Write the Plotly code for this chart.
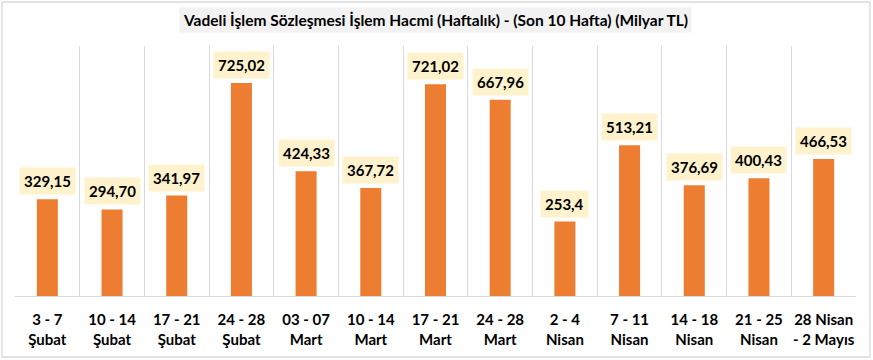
import plotly.graph_objects as go

categories = ["3 - 7<br>Şubat", "10 - 14<br>Şubat", "17 - 21<br>Şubat", "24 - 28<br>Şubat",
              "03 - 07<br>Mart", "10 - 14<br>Mart", "17 - 21<br>Mart", "24 - 28<br>Mart",
              "2 - 4<br>Nisan", "7 - 11<br>Nisan", "14 - 18<br>Nisan", "21 - 25<br>Nisan",
              "28 Nisan<br>- 2 Mayıs"]
values = [329.15, 294.70, 341.97, 725.02, 424.33, 367.72, 721.02, 667.96,
          253.4, 513.21, 376.69, 400.43, 466.53]
value_labels = ["329,15", "294,70", "341,97", "725,02", "424,33", "367,72", "721,02", "667,96",
                "253,4", "513,21", "376,69", "400,43", "466,53"]
title_text = "Vadeli İşlem Sözleşmesi İşlem Hacmi (Haftalık) - (Son 10 Hafta) (Milyar TL)"

FONT = "Lato"

fig = go.Figure()
fig.add_trace(go.Bar(
    x=categories, y=values,
    marker=dict(color="#ED7D31", line=dict(width=0)),
    hoverinfo="skip",
))

annotations = []
for c, v, t in zip(categories, values, value_labels):
    annotations.append(dict(
        x=c, y=v, xref="x", yref="y", text=t, showarrow=False,
        yanchor="bottom", yshift=4,
        bgcolor="#FFF2CC", borderpad=4,
        font=dict(family=FONT, size=15, color="#000000", weight="bold"),
    ))

annotations.append(dict(
    x=0.5, y=1.102, xref="paper", yref="paper", text=title_text, showarrow=False,
    xanchor="center", yanchor="middle",
    bgcolor="#F2F2F2", borderpad=3,
    font=dict(family=FONT, size=15.5, color="#000000", weight="bold"),
))

fig.update_layout(
    width=873, height=360,
    margin=dict(l=15, r=17, t=46, b=64, autoexpand=False),
    paper_bgcolor="#FFFFFF", plot_bgcolor="#FFFFFF",
    showlegend=False,
    bargap=0.675,
    annotations=annotations,
    shapes=[dict(type="rect", xref="paper", yref="paper",
                 x0=-0.0155, x1=1.0166, y0=-0.244, y1=1.176,
                 line=dict(color="#D9D9D9", width=1.3), fillcolor="rgba(0,0,0,0)", layer="below")],
    font=dict(family=FONT),
)
fig.update_xaxes(
    type="category", tickson="boundaries", showgrid=True, gridcolor="#D9D9D9", gridwidth=1,
    showline=True, linecolor="#D9D9D9", linewidth=1, ticks="", ticklen=0,
    tickangle=0, automargin=False,
    tickfont=dict(family=FONT, size=15, color="#000000", weight="bold"),
    ticklabelstandoff=10,
)
fig.update_yaxes(range=[0, 851], showgrid=False, zeroline=False, showticklabels=False,
                 showline=False, automargin=False)

fig.write_html("out.html",
               config={"displayModeBar": False},
               post_script="document.body.style.margin='0px';document.body.style.overflow='hidden';")
